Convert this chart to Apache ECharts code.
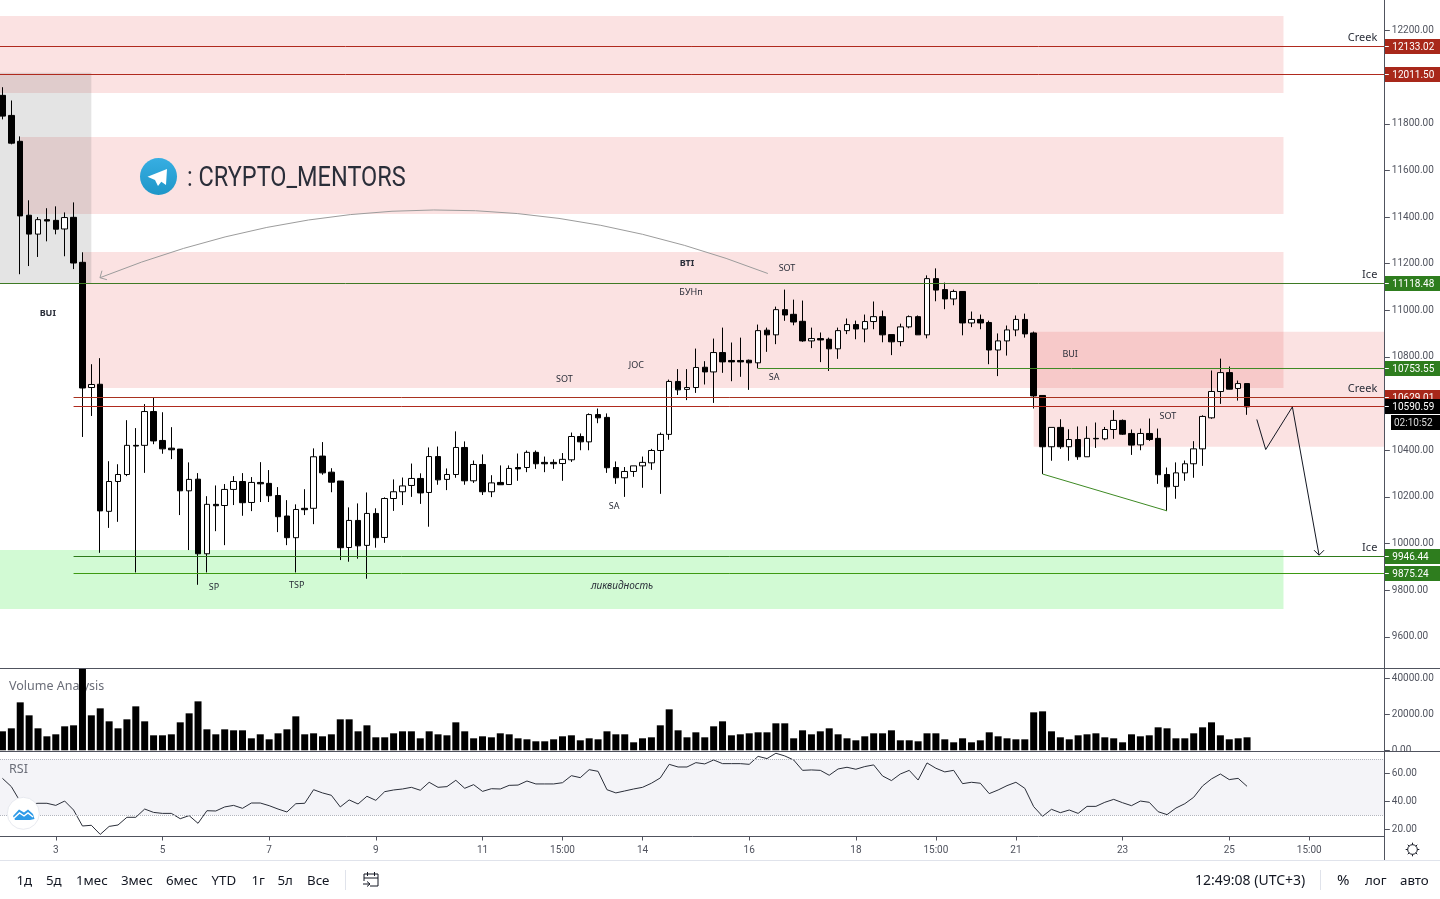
<!DOCTYPE html>
<html>
<head>
    <meta charset="utf-8">
    <title>BTC 4h</title>
    <script src="https://cdn.jsdelivr.net/npm/echarts@6/dist/echarts.min.js"></script>
    <style>
        html, body { margin: 0; padding: 0; background: #fff; }
        #demo { width: 1440px; height: 899px; }
    </style>
</head>
<body>
    <div id="demo"></div>
    <script type="text/javascript">
        // candles, one every 4 hours
        var opens = [
            11922,11836,11725,11408,11327,11389,11386,11349,11399,11206,
            10669,10683,10138,10266,10296,10421,10421,10566,10442,10409,
            10405,10226,10276,9956,10168,10163,10232,10266,10176,10262,
            10258,10206,10118,10025,10151,10151,10375,10306,10268,9983,
            10099,9992,10129,10026,10193,10222,10249,10279,10219,10373,
            10275,10296,10412,10269,10339,10222,10262,10253,10326,10326,
            10391,10348,10348,10343,10359,10459,10436,10553,10541,10326,
            10282,10309,10333,10346,10399,10468,10695,10661,10669,10756,
            10736,10819,10785,10785,10786,10775,10915,10895,11003,10983,
            10953,10869,10879,10876,10835,10913,10939,10920,10952,10973,
            10896,10866,10929,10973,10895,11136,11089,11049,11081,10946,
            10961,10948,10830,10869,10916,10961,10903,10635,10415,10498,
            10415,10446,10372,10451,10449,10489,10528,10472,10423,10472,
            10451,10296,10245,10303,10342,10406,10539,10652,10733,10665,
            10686
        ];
        var closes = [
            11833,11717,11405,11327,11389,11383,11348,11398,11203,10667,
            10682,10140,10266,10296,10421,10418,10566,10440,10406,10402,
            10226,10275,9956,10168,10162,10232,10266,10175,10262,10256,
            10205,10115,10025,10146,10145,10372,10303,10263,9982,10099,
            9990,10129,10025,10193,10222,10247,10279,10217,10373,10273,
            10296,10412,10269,10339,10222,10260,10252,10322,10320,10391,
            10342,10342,10342,10361,10459,10436,10553,10539,10325,10282,
            10309,10333,10348,10399,10468,10695,10659,10669,10755,10736,
            10819,10779,10779,10779,10775,10913,10895,11003,10980,10950,
            10869,10879,10873,10835,10913,10939,10920,10952,10973,10895,
            10865,10929,10973,10895,11136,11087,11049,11081,10946,10961,
            10946,10830,10869,10916,10961,10899,10633,10415,10498,10415,
            10446,10372,10451,10449,10489,10528,10469,10422,10472,10446,
            10295,10243,10303,10342,10406,10545,10652,10733,10662,10686,
            10586
        ];
        var lows = [
            11819,11712,11155,11190,11229,11296,11326,11232,11177,10457,
            10547,9960,10067,10093,10289,9876,10303,10426,10385,10362,
            10122,9972,9823,9876,10053,9993,10165,10119,10139,10178,
            10178,10049,9993,9876,10122,10083,10295,10220,9929,9922,
            9935,9849,9982,10003,10140,10165,10200,10170,10072,10252,
            10229,10282,10252,10260,10208,10199,10252,10252,10269,10306,
            10320,10306,10320,10269,10350,10400,10400,10516,10303,10256,
            10200,10286,10239,10316,10213,10445,10637,10615,10646,10682,
            10603,10732,10696,10715,10659,10751,10822,10855,10955,10936,
            10865,10838,10778,10740,10792,10898,10876,10863,10919,10863,
            10808,10846,10923,10895,10880,11039,11005,11022,10893,10928,
            10919,10769,10718,10806,10889,10883,10579,10298,10355,10406,
            10355,10359,10372,10410,10443,10449,10466,10380,10400,10440,
            10256,10140,10192,10269,10282,10333,10535,10599,10661,10613,
            10552
        ];
        var highs = [
            11957,11900,11746,11472,11400,11438,11446,11420,11463,11249,
            10769,10795,10353,10340,10529,10495,10598,10628,10563,10499,
            10405,10348,10302,10203,10249,10255,10289,10302,10285,10349,
            10315,10242,10186,10168,10233,10408,10435,10323,10268,10155,
            10172,10219,10151,10198,10275,10283,10343,10301,10412,10416,
            10322,10481,10438,10356,10382,10293,10335,10335,10386,10399,
            10399,10373,10361,10388,10476,10472,10558,10579,10558,10352,
            10328,10333,10373,10406,10476,10703,10748,10748,10836,10782,
            10879,10926,10862,10883,10789,10939,10926,11016,11089,11046,
            11042,10926,10905,10883,10926,10965,10956,10982,11038,10999,
            10896,10943,10978,10978,11150,11180,11119,11089,11081,10995,
            10982,10956,10901,10935,10978,10986,10909,10635,10498,10533,
            10490,10502,10503,10519,10500,10572,10532,10489,10493,10536,
            10493,10326,10348,10356,10439,10550,10742,10793,10759,10699,
            10686
        ];
        var volumes = [
            10545,12210,26640,19425,12210,7770,8880,13320,13875,47000,
            19425,23310,16095,12210,17205,24420,16095,8325,8325,8880,
            15540,20535,27195,11655,8880,11655,11100,11100,6660,8880,
            6105,9435,11655,18870,8880,9435,7770,8880,17205,17205,
            10545,13875,7215,7215,9435,10545,10545,6660,10545,8880,
            8325,15540,10545,6660,7770,7215,9435,8880,6660,6105,
            4995,4995,6105,7770,8325,5550,6660,6105,10545,8880,
            8880,4440,6660,7215,13875,22755,11100,7215,9990,7215,
            13320,16095,8325,8880,9435,9990,9990,14985,14985,6660,
            11100,8880,10545,12210,8880,6660,5550,7770,9435,9435,
            11100,5550,5550,4995,9435,9435,6105,4440,6660,4440,
            5550,9990,7770,6660,6105,6105,21090,21645,10545,7215,
            6105,8325,8880,9435,7215,6660,4440,8880,7770,8325,
            12765,12210,6660,6660,9435,12765,15540,8325,6105,6660,
            7215
        ];
        var rsiValues = [
            56.4,50.5,39.8,38.1,38.6,38.6,37.1,40.2,33.8,22.4,
            22.9,16.4,22.1,23.1,28.6,28.6,34.5,32.1,31.4,31.4,
            27.6,29.8,24.3,33.3,33.1,36,37.1,35,38.8,38.8,
            36.9,34.5,32.4,38.3,38.6,48.3,46,44.3,36,41,
            38.1,43.6,40.7,46.9,48.1,48.8,50,47.9,53.6,50,
            50.5,55,49.3,51.9,47.1,49,48.8,51.4,51.6,54.5,
            52.4,52.4,52.4,53.3,58.3,56.9,62.6,61.4,48.3,46,
            47.4,48.8,50,52.9,56.7,66.4,64.5,64.5,67.6,66.7,
            69.5,66.9,66.9,66.9,66.4,72.1,70.5,74.3,72.4,69.5,
            62.1,62.4,62.1,58.6,63.1,64.3,62.9,64.8,66,58.1,
            54.8,59.5,62.1,55.2,67.4,63.6,61,62.1,52.6,53.6,
            52.9,45.5,48.1,51.2,53.6,49.3,36.2,29.3,34.3,31.9,
            33.8,31.4,36.4,36.4,39.3,41.4,39,36.9,40.2,39.3,
            32.6,30.5,35.2,38.3,42.9,51,56,59.5,55.5,56.4,
            50.7
        ];

        // axis ticks
        var priceTicks = [12200,12000,11800,11600,11400,11200,11000,10800,10600,10400,10200,10000,9800,9600];
        var volumeTicks = [40000,20000,0];
        var rsiTicks = [60,40,20];
        var timeTickIndex = [6,18,30,42,54,63,72,84,96,105,114,126,138,147];
        var timeTickLabels = ['3','5','7','9','11','15:00','14','16','18','15:00','21','23','25','15:00'];

        // shaded zones
        var zoneStart = [-0.5,2,9,116,-0.5,-0.5];
        var zoneEnd = [144.1,144.1,144.1,155.5,144.1,10];
        var zoneTop = [12262,11743,11250,10908,9972,12019];
        var zoneBottom = [11932,11413,10667,10415,9719,11117];
        var zoneColor = ['pink','pink','pink','pink','green','grey'];

        // horizontal levels
        var levelStart = [-0.5,-0.5,-0.5,85,8,8,8,8];
        var levelPrice = [12133.02,12011.50,11118.48,10753.55,10629.01,9946.44,9875.24,10590.59];
        var levelColor = ['#b02a1e','#b02a1e','#3e7a24','#3e8a24','#a8321f','#2f7a1c','#3d9a12','#b02a1e'];
        var levelFill = ['#a8281a','#a8281a','#2e7d1e','#2e7d1e','#a8281a','#2e7d1e','#2e7d1e','#000'];

        // text drawn on the chart
        var noteText = ['BUI','BTI','БУНп','SOT','SOT','JOC','SA','SA','SP','TSP','ликвидность','BUI','SOT','Creek','Creek','Ice','Ice'];
        var noteIndex = [5.1,77,77.45,88.25,63.2,71.3,86.8,68.8,23.8,33.1,69.7,120.1,131.1,153,153,153.8,153.8];
        var notePrice = [10993,11207,11079,11182,10710,10770,10718,10165,9814,9826,9822,10817,10551,12172,10667,11156,9985];

        var dom = document.getElementById('demo');
        var chart = echarts.init(dom);

        var ink = '#50535e';
        var axisFont = 'Roboto';
        var barCount = 156;
        var categories = [];
        for (var i = 0; i < barCount; i++) categories.push(String(i));

        function isTimeTick(i) { return timeTickIndex.indexOf(i) >= 0; }

        var gridBox = { left: -2, width: 1386.84, outerBoundsMode: 'none' };

        function catAxis(gridIndex, showLabels) {
            return {
                type: 'category', gridIndex: gridIndex, data: categories, boundaryGap: true,
                axisLine: { show: false },
                axisTick: showLabels ? { show: true, length: 4, alignWithLabel: true, interval: isTimeTick, lineStyle: { color: ink } } : { show: false },
                axisLabel: showLabels ? {
                    show: true, interval: isTimeTick, color: ink, fontFamily: axisFont, fontSize: 10, margin: 9,
                    formatter: function (v, idx) { return timeTickLabels[timeTickIndex.indexOf(+v)]; }
                } : { show: false },
                splitLine: { show: false }
            };
        }

        function valAxis(gridIndex, min, max, ticks) {
            return {
                type: 'value', gridIndex: gridIndex, position: 'right', min: min, max: max, scale: true,
                axisLine: { show: false, onZero: false },
                axisTick: { show: true, length: 5, customValues: ticks, lineStyle: { color: ink } },
                axisLabel: {
                    show: true, customValues: ticks, color: ink, fontFamily: axisFont, fontSize: 10, margin: 7, padding: [4, 0, 0, 0],
                    formatter: function (v) { return v.toFixed(2); }
                },
                splitLine: { show: false }
            };
        }

        function tableOf(a, b) { return a.map(function (v, i) { return [v, b[i]]; }); }

        var zoneFill = { pink: 'rgba(225,60,60,0.15)', green: 'rgba(50,230,60,0.22)', grey: 'rgba(120,120,120,0.2)' };

        function renderZone(params, api) {
            var i = params.dataIndex;
            var a = api.coord([zoneStart[i], zoneTop[i]]);
            var b = api.coord([zoneEnd[i], zoneBottom[i]]);
            return { type: 'rect', shape: { x: a[0], y: a[1], width: b[0] - a[0], height: b[1] - a[1] }, style: { fill: zoneFill[zoneColor[i]] } };
        }

        function renderLevel(params, api) {
            var i = params.dataIndex;
            var p = api.coord([levelStart[i], levelPrice[i]]);
            var right = params.coordSys.x + params.coordSys.width;
            var y = Math.round(p[1]) + 0.5;
            return {
                type: 'group',
                children: [
                    { type: 'line', shape: { x1: p[0], y1: y, x2: right, y2: y }, style: { stroke: levelColor[i], lineWidth: 1 } },
                    { type: 'rect', shape: { x: right, y: y - 7.5, width: 56, height: 15 }, style: { fill: levelFill[i] } },
                    { type: 'line', shape: { x1: right, y1: y, x2: right + 4, y2: y }, style: { stroke: '#fff', lineWidth: 1 } },
                    { type: 'text', style: { x: right + 7.5, y: y + 1, text: levelPrice[i].toFixed(2), fill: '#fff', font: '10px ' + axisFont, align: 'left', verticalAlign: 'middle' } }
                ]
            };
        }

        function renderNote(params, api) {
            var i = params.dataIndex;
            var p = api.coord([noteIndex[i], notePrice[i]]);
            var t = noteText[i];
            var font = '9px "Noto Sans"';
            if (t === 'BTI' || (t === 'BUI' && i === 0)) font = 'bold 9px "Noto Sans"';
            if (t === 'ликвидность') font = 'italic 10px "Noto Sans"';
            if (t === 'Creek' || t === 'Ice') font = '11px "Noto Sans"';
            return { type: 'text', style: { x: p[0], y: p[1] + 1, text: t, fill: '#2a2e39', font: font, align: 'center', verticalAlign: 'middle' } };
        }

        // drawn paths, as [bar index, price]
        var curveStart = [86.1, 11158];
        var curveControl = [48.5, 11712];
        var curveEnd = [10.97, 11140];
        var triangleLeg = [[117, 10298], [131, 10140]];
        var forecastLeg = [[141.1, 10532], [142.1, 10403], [145.1, 10586], [148.1, 9950]];

        function renderPaths(params, api) {
            var a = api.coord(curveStart), c = api.coord(curveControl), b = api.coord(curveEnd);
            var legs = forecastLeg.map(function (v) { return api.coord(v); });
            var tip = legs[legs.length - 1];
            return {
                type: 'group',
                children: [
                    { type: 'bezierCurve', shape: { x1: a[0], y1: a[1], x2: b[0], y2: b[1], cpx1: c[0], cpy1: c[1] }, style: { stroke: '#9c9c9c', fill: null, lineWidth: 1 } },
                    { type: 'polyline', shape: { points: [[b[0] + 2, b[1] - 7], [b[0], b[1]], [b[0] + 7, b[1] + 2]] }, style: { stroke: '#9c9c9c', fill: null, lineWidth: 1 } },
                    { type: 'polyline', shape: { points: triangleLeg.map(function (v) { return api.coord(v); }) }, style: { stroke: '#3e8a24', fill: null, lineWidth: 1 } },
                    { type: 'polyline', shape: { points: legs }, style: { stroke: '#131722', fill: null, lineWidth: 1 } },
                    { type: 'polyline', shape: { points: [[tip[0] - 5, tip[1] - 5], tip, [tip[0] + 5, tip[1] - 5]] }, style: { stroke: '#131722', fill: null, lineWidth: 1 } }
                ]
            };
        }

        function label(x, y, text, font, fill, align, z) {
            return { type: 'text', silent: true, z: z === undefined ? 30 : z, style: { x: x, y: y + 1, text: text, fill: fill || '#131722', font: font, textAlign: align || 'left', textVerticalAlign: 'middle' } };
        }
        function rule(x1, y1, x2, y2, color, w) {
            return { type: 'line', silent: true, z: 31, shape: { x1: x1, y1: y1, x2: x2, y2: y2 }, style: { stroke: color, lineWidth: w || 1 } };
        }

        var barFont = '14px "Noto Sans"';
        var rangeFont = '13.3px "Noto Sans"';
        var rangeNames = ['1д','5д','1мес','3мес','6мес','YTD','1г','5л','Все'];
        var rangeX = [16.5,46,76,121,166,211.5,251.5,277.5,307];
        var graphics = [];

        rangeNames.forEach(function (n, i) { graphics.push(label(rangeX[i], 880, n, rangeFont)); });
        graphics.push(
            label(9, 685, 'Volume Analysis', '12.5px "Noto Sans"', '#6a6d78', 'left', 0),
            label(9, 768, 'RSI', '12.5px "Noto Sans"', '#6a6d78'),
            label(1195, 880, '12:49:08 (UTC+3)', barFont),
            label(1337, 880, '%', '15px "Noto Sans"'),
            label(1365, 880, 'лог', rangeFont),
            label(1400, 880, 'авто', rangeFont),
            rule(0, 668.5, 1440, 668.5, ink),
            rule(0, 751.5, 1440, 751.5, ink),
            rule(0, 836.5, 1384.5, 836.5, ink),
            rule(1384.5, 0, 1384.5, 860, ink),
            rule(0, 860.5, 1440, 860.5, '#e0e3eb'),
            rule(345.5, 870, 345.5, 890, '#e0e3eb'),
            rule(1320.5, 870, 1320.5, 890, '#e0e3eb')
        );
        // hides the lower half of the volume pane's 0.00 label
        graphics.push({ type: 'rect', silent: true, z: 29, shape: { x: 1386, y: 752, width: 54, height: 8 }, style: { fill: '#fff' } });
        // countdown under the last price
        graphics.push({ type: 'rect', silent: true, z: 29, shape: { x: 1391, y: 415, width: 49, height: 15 }, style: { fill: '#000' } });
        graphics.push(label(1394, 422, '02:10:52', '10px ' + axisFont, '#ddd', 'left'));
        // watermark
        graphics.push({
            type: 'circle', silent: true, z: 20, shape: { cx: 158.5, cy: 176.5, r: 18.5 },
            style: { fill: new echarts.graphic.LinearGradient(0, 0, 0, 1, [{ offset: 0, color: '#37aee2' }, { offset: 1, color: '#1e96c8' }]) }
        });
        graphics.push({ type: 'polygon', silent: true, z: 21, shape: { points: [[167, 169], [147.5, 176.7], [155, 180], [158, 186], [161.3, 181.7], [166, 185]] }, style: { fill: '#fff' } });
        graphics.push({
            type: 'text', silent: true, z: 20, x: 187, y: 179, scaleX: 0.87,
            style: { x: 0, y: 0, text: ': CRYPTO_MENTORS', fill: '#2a2e39', font: '27px Roboto', textAlign: 'left', textVerticalAlign: 'middle' }
        });
        // broker badge
        graphics.push({ type: 'circle', silent: true, z: 22, shape: { cx: 23.3, cy: 813.3, r: 16 }, style: { fill: '#fff', stroke: '#e8eaf0', lineWidth: 1 } });
        graphics.push({ type: 'polygon', silent: true, z: 23, shape: { points: [[13, 816], [19, 809.5], [24, 812.5], [28, 809.5], [33, 814], [34.5, 819], [30, 820], [15, 820]] }, style: { fill: '#2e9be8' } });
        graphics.push({ type: 'polyline', silent: true, z: 24, shape: { points: [[13, 819], [19.5, 813], [24, 816], [28, 813], [33, 817]] }, style: { stroke: '#fff', fill: null, lineWidth: 1.4 } });
        // date range icon
        graphics.push({ type: 'polyline', silent: true, z: 24, shape: { points: [[364, 881], [364, 874], [378, 874], [378, 886], [370, 886]] }, style: { stroke: '#131722', fill: null, lineWidth: 1 } });
        graphics.push(rule(364, 878, 378, 878, '#131722'), rule(367.5, 872, 367.5, 876, '#131722'), rule(374.5, 872, 374.5, 876, '#131722'), rule(363, 884, 370, 884, '#131722'));
        graphics.push({ type: 'polyline', silent: true, z: 24, shape: { points: [[367, 881.5], [370, 884], [367, 886.5]] }, style: { stroke: '#131722', fill: null, lineWidth: 1 } });
        // settings gear
        graphics.push({ type: 'circle', silent: true, z: 24, shape: { cx: 1412.5, cy: 849.5, r: 4.8 }, style: { stroke: '#131722', fill: null, lineWidth: 1 } });
        [[0, -1], [0, 1], [-1, 0], [1, 0], [-.7, -.7], [.7, -.7], [-.7, .7], [.7, .7]].forEach(function (d) {
            graphics.push(rule(1412.5 + d[0] * 4.8, 849.5 + d[1] * 4.8, 1412.5 + d[0] * 6.8, 849.5 + d[1] * 6.8, '#131722'));
        });

        var option = {
            animation: false,
            backgroundColor: '#fff',
            grid: [
                { left: gridBox.left, width: gridBox.width, outerBoundsMode: gridBox.outerBoundsMode, top: 0, height: 668.5 },
                { left: gridBox.left, width: gridBox.width, outerBoundsMode: gridBox.outerBoundsMode, top: 669, height: 82.5 },
                { left: gridBox.left, width: gridBox.width, outerBoundsMode: gridBox.outerBoundsMode, top: 752, height: 84.5 }
            ],
            xAxis: [
                catAxis(0, false),
                catAxis(1, false),
                catAxis(2, true),
                { type: 'value', gridIndex: 0, min: -0.5, max: 155.5, show: false }
            ],
            yAxis: [
                valAxis(0, 9464, 12331, priceTicks),
                valAxis(1, -667, 45170, volumeTicks),
                valAxis(2, 14.9, 75.2, rsiTicks)
            ],
            series: [
                {
                    type: 'custom', name: 'zones', xAxisIndex: 3, yAxisIndex: 0, z: 1, clip: false, silent: true,
                    renderItem: renderZone, encode: { x: 0, y: 1 }, data: tableOf(zoneStart, zoneTop)
                },
                {
                    type: 'candlestick', name: 'price', xAxisIndex: 0, yAxisIndex: 0, z: 3, barWidth: 6, silent: true,
                    itemStyle: { color: '#fff', color0: '#000', borderColor: '#000', borderColor0: '#000', borderWidth: 1 },
                    data: opens.map(function (o, i) { return [o, closes[i], lows[i], highs[i]]; })
                },
                {
                    type: 'custom', name: 'levels', xAxisIndex: 3, yAxisIndex: 0, z: 5, clip: false, silent: true,
                    renderItem: renderLevel, encode: { x: 0, y: 1 }, data: tableOf(levelStart, levelPrice)
                },
                {
                    type: 'custom', name: 'paths', xAxisIndex: 3, yAxisIndex: 0, z: 6, clip: false, silent: true,
                    renderItem: renderPaths, encode: { x: 0, y: 1 }, data: [curveStart]
                },
                {
                    type: 'custom', name: 'notes', xAxisIndex: 3, yAxisIndex: 0, z: 6, clip: false, silent: true,
                    renderItem: renderNote, encode: { x: 0, y: 1 }, data: tableOf(noteIndex, notePrice)
                },
                {
                    type: 'bar', name: 'volume', xAxisIndex: 1, yAxisIndex: 1, barWidth: 7, silent: true,
                    itemStyle: { color: '#000' }, data: volumes
                },
                {
                    type: 'line', name: 'rsi', xAxisIndex: 2, yAxisIndex: 2, symbol: 'none', silent: true,
                    lineStyle: { color: '#2a2e39', width: 1 }, data: rsiValues,
                    markArea: { silent: true, itemStyle: { color: 'rgba(110,110,160,0.08)' }, data: [[{ yAxis: 70 }, { yAxis: 30 }]] },
                    markLine: {
                        silent: true, symbol: 'none', label: { show: false },
                        lineStyle: { color: '#b2b5be', type: 'dotted', width: 1 }, data: [{ yAxis: 70 }, { yAxis: 30 }]
                    }
                }
            ],
            graphic: { elements: graphics }
        };

        chart.setOption(option);
    </script>
</body>
</html>
